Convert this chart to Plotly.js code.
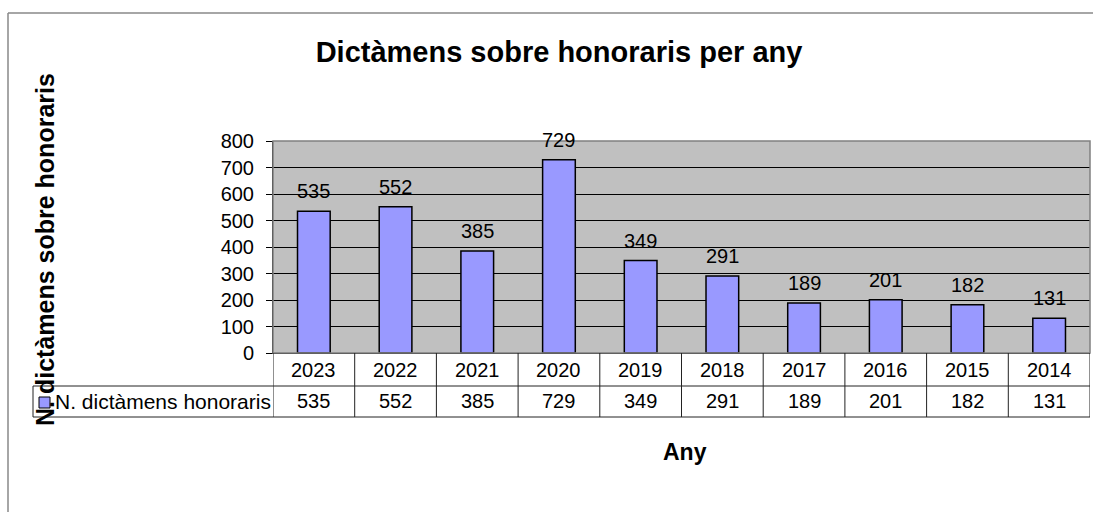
<!DOCTYPE html>
<html>
<head>
<meta charset="utf-8">
<script src="https://cdn.plot.ly/plotly-3.0.1.min.js"></script>
<style>html,body{margin:0;padding:0;background:#fff;}#chart{width:1093px;height:512px;}</style>
</head>
<body>
<div id="chart"></div>
<script>
const years = ["2023","2022","2021","2020","2019","2018","2017","2016","2015","2014"];
const values = [535, 552, 385, 729, 349, 291, 189, 201, 182, 131];
const seriesName = "N. dictàmens honoraris";
const chartTitle = "Dictàmens sobre honoraris per any";
const yTitle = "N. dictàmens sobre honoraris";
const xTitle = "Any";

const FONT = "Liberation Sans, Arial, sans-serif";
const W = 1093, H = 512;
const L = 273, R = 1090, T = 141, B = 353;
const px = X => (X - L) / (R - L);
const py = Y => (B - Y) / (B - T);

const idx = years.map((_, i) => i);

const trace = {
  type: "bar",
  x: years,
  y: values,
  width: 0.4,
  marker: {color: "#9999FF", line: {color: "#000000", width: 1.5}},
  name: seriesName,
  hoverinfo: "x+y"
};

const shapes = [];
const annotations = [];
const lineCol = "#222222";

// outer chart border (top and left)
shapes.push({type: "line", xref: "paper", yref: "paper", x0: px(8), x1: px(1093), y0: py(13), y1: py(13), line: {color: "#888888", width: 1.5}});
shapes.push({type: "line", xref: "paper", yref: "paper", x0: px(8), x1: px(8), y0: py(13), y1: py(512), line: {color: "#888888", width: 1.5}});

// plot area border
shapes.push({type: "rect", xref: "paper", yref: "paper", x0: 0, x1: 1, y0: 0, y1: 1, line: {color: "#808080", width: 1.5}});

// data table lines
const yRow1 = py(386), yRow2 = py(417);
for (let i = 0; i <= years.length; i++) {
  shapes.push({type: "line", xref: "x", yref: "paper", x0: i - 0.5, x1: i - 0.5, y0: 0, y1: yRow2, line: {color: lineCol, width: 1}});
}
shapes.push({type: "line", xref: "paper", yref: "paper", x0: px(33), x1: 1, y0: yRow1, y1: yRow1, line: {color: lineCol, width: 1}});
shapes.push({type: "line", xref: "paper", yref: "paper", x0: px(33), x1: 1, y0: yRow2, y1: yRow2, line: {color: lineCol, width: 1}});
shapes.push({type: "line", xref: "paper", yref: "paper", x0: px(33), x1: px(33), y0: yRow1, y1: yRow2, line: {color: lineCol, width: 1}});
// legend key square
shapes.push({type: "rect", xref: "paper", yref: "paper", x0: px(39), x1: px(50), y0: py(397), y1: py(408), fillcolor: "#9999FF", line: {color: "#000000", width: 1}});

// data labels above bars and table cells
idx.forEach(i => {
  annotations.push({x: i, y: values[i], xref: "x", yref: "y", text: String(values[i]), showarrow: false,
    yanchor: "middle", yshift: 20, font: {family: FONT, size: 20, color: "#000"}});
  annotations.push({x: i, y: py(370), xref: "x", yref: "paper", text: years[i], showarrow: false,
    yanchor: "middle", font: {family: FONT, size: 20, color: "#000"}});
  annotations.push({x: i, y: py(401), xref: "x", yref: "paper", text: String(values[i]), showarrow: false,
    yanchor: "middle", font: {family: FONT, size: 20, color: "#000"}});
});
// legend label
annotations.push({x: px(53), y: py(401), xref: "paper", yref: "paper", text: seriesName, showarrow: false,
  xanchor: "left", yanchor: "middle", font: {family: FONT, size: 21, color: "#000"}});
// axis titles
annotations.push({x: px(45), y: py(250), xref: "paper", yref: "paper", text: "<b>" + yTitle + "</b>", showarrow: false,
  textangle: -90, xanchor: "center", yanchor: "middle", font: {family: FONT, size: 25, color: "#000"}});
annotations.push({x: px(685), y: py(452), xref: "paper", yref: "paper", text: "<b>" + xTitle + "</b>", showarrow: false,
  xanchor: "center", yanchor: "middle", font: {family: FONT, size: 23, color: "#000"}});

const layout = {
  width: W, height: H,
  margin: {l: L, r: W - R, t: T, b: H - B, pad: 0},
  paper_bgcolor: "#ffffff",
  plot_bgcolor: "#C0C0C0",
  showlegend: false,
  title: {text: "<b>" + chartTitle + "</b>", x: 559 / W, xanchor: "center", xref: "container",
    y: 1 - 52 / H, yanchor: "middle", yref: "container", font: {family: FONT, size: 29, color: "#000"}},
  xaxis: {type: "category", showticklabels: false, ticks: "", showgrid: false, zeroline: false,
    showline: true, linecolor: "#000", linewidth: 1, range: [-0.5, years.length - 0.5], fixedrange: true},
  yaxis: {range: [0, 800], dtick: 100, tick0: 0, showgrid: true, gridcolor: "#000000", gridwidth: 1,
    zeroline: false, showline: true, linecolor: "#000", linewidth: 1, ticks: "outside", ticklen: 6,
    tickcolor: "#000", ticklabelstandoff: 8, tickfont: {family: FONT, size: 20, color: "#000"}, fixedrange: true},
  shapes: shapes,
  annotations: annotations,
  bargap: 0.6
};

Plotly.newPlot("chart", [trace], layout, {displayModeBar: false, staticPlot: true});
</script>
</body>
</html>
